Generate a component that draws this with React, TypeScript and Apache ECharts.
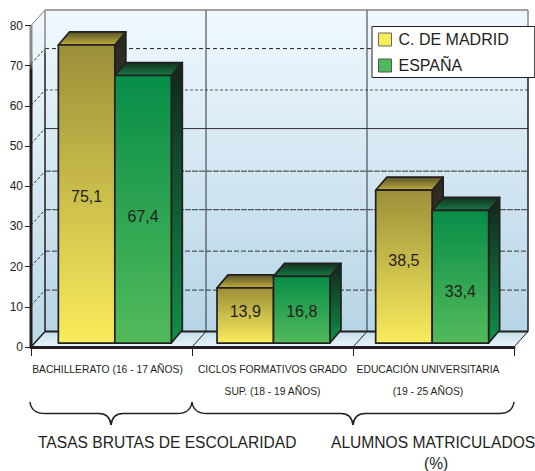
import React, { useEffect, useRef } from "react";
import * as echarts from "echarts";

const categories = [
  "BACHILLERATO (16 - 17 AÑOS)",
  "CICLOS FORMATIVOS GRADO\nSUP. (18 - 19 AÑOS)",
  "EDUCACIÓN UNIVERSITARIA\n(19 - 25 AÑOS)",
];
const madrid = [75.1, 13.9, 38.5];
const espana = [67.4, 16.8, 33.4];
const madridLabelAt = [37, 8, 20.7];
const espanaLabelAt = [31.8, 7.9, 12.9];
const wallLineValues = [70.4, 60.1, 50.5, 39.9, 30.3, 20, 10.3];
const wallLineDashes = [[4, 3], [3, 2], null, [6, 1], [6, 1], [5, 2], [5, 2]];
const wallLineColors = ["#222", "#555", "#333", "#333", "#333", "#333", "#333"];

const FONT = "'Liberation Sans', Arial, sans-serif";
const DARK = "#231f20";

const vGrad = (stops: string[]) => ({
  type: "linear", x: 0, y: 0, x2: 0, y2: 1,
  colorStops: stops.map((color, i) => ({ offset: i / (stops.length - 1), color })),
});

const edgeGrad = {
  type: "linear", x: 0, y: 0, x2: 0, y2: 1,
  colorStops: [
    { offset: 0, color: "#8a8a8a" },
    { offset: 0.11, color: "#8a8a8a" },
    { offset: 0.14, color: DARK },
    { offset: 1, color: DARK },
  ],
};

const WALL_X = 14;
const WALL_Y = 15.5;
const BAR_X = 11;
const BAR_Y = 13;

const line = (x1: number, y1: number, x2: number, y2: number, stroke: string, lineWidth = 1, lineDash?: number[] | null) => ({
  type: "line",
  shape: { x1, y1, x2, y2 },
  style: { stroke, lineWidth, lineDash: lineDash || undefined, fill: "none" },
});

const curve = (x1: number, y1: number, cpx1: number, cpy1: number, cpx2: number, cpy2: number, x2: number, y2: number) => ({
  type: "bezierCurve",
  shape: { x1, y1, cpx1, cpy1, cpx2, cpy2, x2, y2 },
  style: { stroke: DARK, lineWidth: 1.5, fill: "none" },
});

const brace = (a: number, b: number, top: number) => {
  const m = (a + b) / 2;
  const bar = top + 11.5;
  const tip = top + 23;
  return [
    curve(a, top, a + 1, top + 8, a + 6, bar, a + 15, bar),
    line(a + 15, bar, m - 12, bar, DARK, 1.5),
    curve(m - 12, bar, m - 5, bar, m - 1, bar + 3, m, tip),
    curve(m, tip, m + 1, bar + 3, m + 5, bar, m + 12, bar),
    line(m + 12, bar, b - 15, bar, DARK, 1.5),
    curve(b - 15, bar, b - 6, bar, b - 1, top + 8, b, top),
  ];
};

const renderFrame = (params: any, api: any) => {
  const { x, y, width, height } = params.coordSys;
  const bottom = y + height;
  const right = x + width;
  const band = width / categories.length;
  const kids: any[] = [];
  // left wall
  kids.push({
    type: "polygon",
    shape: { points: [[x, bottom], [x + WALL_X, bottom - WALL_Y], [x + WALL_X, y - WALL_Y], [x, y]] },
    style: { fill: vGrad(["#f1f8fd", "#bcd8e8"]) },
  });
  // back wall
  kids.push({
    type: "rect",
    shape: { x: x + WALL_X, y: y - WALL_Y, width, height },
    style: { fill: vGrad(["#f0f8fe", "#b6d5e6"]) },
  });
  // floor
  kids.push({
    type: "polygon",
    shape: { points: [[x, bottom], [x + WALL_X, bottom - WALL_Y], [right + WALL_X, bottom - WALL_Y], [right, bottom]] },
    style: { fill: vGrad(["#c4deeb", "#eaf5fb"]) },
  });
  // wall lines and their diagonals on the left wall
  wallLineValues.forEach((v, i) => {
    const py = api.coord([0, v])[1];
    kids.push(line(x + WALL_X, py - WALL_Y, right + WALL_X, py - WALL_Y, wallLineColors[i], 1, wallLineDashes[i]));
    kids.push(line(x, py, x + WALL_X, py - WALL_Y, "#333", 1, [3, 2]));
  });
  // verticals and floor separators
  for (let i = 1; i <= categories.length; i++) {
    const bx = x + band * i;
    if (i < categories.length) kids.push(line(bx + WALL_X, y - WALL_Y, bx + WALL_X, bottom - WALL_Y, "#333", 1));
    kids.push(line(bx, bottom, bx + WALL_X, bottom - WALL_Y, DARK, 1));
  }
  // outline
  kids.push(line(x + WALL_X, y - WALL_Y, right + WALL_X, y - WALL_Y, "#858585", 1.5));
  kids.push(line(x, y, x + WALL_X, y - WALL_Y, "#777", 1));
  kids.push({ type: "rect", shape: { x: x + WALL_X - 0.75, y: y - WALL_Y, width: 1.5, height }, style: { fill: edgeGrad } });
  kids.push({ type: "rect", shape: { x: right + WALL_X - 0.75, y: y - WALL_Y, width: 1.5, height }, style: { fill: edgeGrad } });
  kids.push({ type: "rect", shape: { x: x - 1.5, y, width: 3, height: height + 1 }, style: { fill: edgeGrad } });
  kids.push(line(x + WALL_X, bottom - WALL_Y, right + WALL_X, bottom - WALL_Y, DARK, 2));
  kids.push(line(x, bottom, x + WALL_X, bottom - WALL_Y, DARK, 1.5));
  // braces below the axis
  const top = bottom + 55;
  brace(x - 1, x + band, top).forEach((b) => kids.push(b));
  brace(x + band, right, top).forEach((b) => kids.push(b));
  return { type: "group", children: kids };
};

const makeBar = (side: -1 | 1, front: string[], face: string[], flank: string[], labelAt: number[]) =>
  (params: any, api: any) => {
    const cat = api.value(0);
    const val = api.value(1);
    const [xc, yTop] = api.coord([cat, val]);
    const yBase = api.coord([cat, 0])[1];
    const w = api.size([1, 0])[0] * 0.356;
    const x0 = side < 0 ? xc - w : xc;
    const x1 = x0 + w;
    const labelY = api.coord([cat, labelAt[params.dataIndex]])[1];
    const stroke = { stroke: DARK, lineWidth: 1.7, lineJoin: "round" };
    return {
      type: "group",
      children: [
        {
          type: "polygon",
          shape: { points: [[x1, yTop], [x1 + BAR_X, yTop - BAR_Y], [x1 + BAR_X, yBase - BAR_Y], [x1, yBase]] },
          style: { fill: vGrad(flank), ...stroke },
        },
        {
          type: "polygon",
          shape: { points: [[x0, yTop], [x0 + BAR_X, yTop - BAR_Y], [x1 + BAR_X, yTop - BAR_Y], [x1, yTop]] },
          style: { fill: vGrad(face), ...stroke },
        },
        {
          type: "rect",
          shape: { x: x0, y: yTop, width: w, height: yBase - yTop },
          style: { fill: vGrad(front), ...stroke },
        },
        {
          type: "text",
          x: (x0 + x1) / 2,
          y: labelY,
          style: {
            text: String(val).replace(".", ","),
            fill: DARK,
            font: `16px ${FONT}`,
            align: "center",
            verticalAlign: "middle",
          },
        },
      ],
    };
  };

export default function App() {
  const ref = useRef<HTMLDivElement>(null);
  useEffect(() => {
    if (!ref.current) return;
    const chart = echarts.init(ref.current, undefined, { renderer: "svg" });
    chart.setOption({
      animation: false,
      backgroundColor: "#fff",
      grid: [
        { left: 31, top: 25.5, width: 483, height: 321.5 },
        { left: 35.5, top: 25.5, width: 476, height: 321.5 },
      ],
      xAxis: [
        {
          type: "category",
          gridIndex: 0,
          data: [
            { value: categories[0], textStyle: { padding: [0, 8, 0, 0] } },
            { value: categories[1] },
            { value: categories[2], textStyle: { padding: [0, 11, 0, 0] } },
          ],
          z: 10,
          axisLine: { lineStyle: { color: DARK, width: 3 } },
          axisTick: { show: true, length: 9, lineStyle: { color: DARK, width: 1 } },
          axisLabel: {
            interval: 0,
            margin: 11,
            fontFamily: FONT,
            fontSize: 10.3,
            lineHeight: 22,
            color: DARK,
          },
          splitLine: { show: false },
        },
        { type: "category", gridIndex: 1, data: categories, show: false },
      ],
      yAxis: [
        {
          type: "value",
          gridIndex: 0,
          min: 0,
          max: 80,
          interval: 10,
          z: 10,
          axisLine: { show: false },
          axisTick: { show: true, length: 6, lineStyle: { color: DARK, width: 1 } },
          axisLabel: { margin: 8, fontFamily: FONT, fontSize: 12, color: DARK },
          splitLine: { show: false },
        },
        { type: "value", gridIndex: 1, min: -1, max: 80, show: false, splitLine: { show: false } },
      ],
      legend: {
        left: 372,
        top: 26.5,
        orient: "vertical",
        z: 20,
        backgroundColor: "#fff",
        borderColor: DARK,
        borderWidth: 1,
        padding: [5, 26, 4, 6],
        itemWidth: 13,
        itemHeight: 13,
        itemGap: 10,
        textStyle: { fontFamily: FONT, fontSize: 16, color: DARK, padding: [0, 0, 0, 2] },
        data: [
          { name: "C. DE MADRID", icon: "rect", itemStyle: { color: "#f8ec5c", borderColor: "#666", borderWidth: 1 } },
          { name: "ESPAÑA", icon: "rect", itemStyle: { color: "#50b95a", borderColor: "#555", borderWidth: 1 } },
        ],
      },
      graphic: [
        { type: "text", left: 38, top: 434, z: 20, style: { text: "TASAS BRUTAS DE ESCOLARIDAD", fill: DARK, font: `15.6px ${FONT}` } },
        { type: "text", left: 331, top: 434, z: 20, style: { text: "ALUMNOS MATRICULADOS", fill: DARK, font: `15.6px ${FONT}` } },
        { type: "text", left: 424, top: 455, z: 20, style: { text: "(%)", fill: DARK, font: `15.6px ${FONT}` } },
      ],
      series: [
        {
          type: "custom",
          name: "marco",
          xAxisIndex: 0,
          yAxisIndex: 0,
          z: 1,
          silent: true,
          clip: false,
          data: [[0, 0]],
          renderItem: renderFrame,
        },
        {
          type: "custom",
          name: "C. DE MADRID",
          xAxisIndex: 1,
          yAxisIndex: 1,
          z: 2,
          clip: false,
          itemStyle: { color: "#f8ec5c" },
          data: madrid.map((v, i) => [i, v]),
          renderItem: makeBar(-1, ["#9c8f3a", "#f9ec5c"], ["#5a5228", "#c0ae40"], ["#2a2a22", "#4a4a2a"], madridLabelAt),
        },
        {
          type: "custom",
          name: "ESPAÑA",
          xAxisIndex: 1,
          yAxisIndex: 1,
          z: 3,
          clip: false,
          itemStyle: { color: "#50b95a" },
          data: espana.map((v, i) => [i, v]),
          renderItem: makeBar(1, ["#078d48", "#53ba5b"], ["#14301f", "#157a45"], ["#12261c", "#0f9048"], espanaLabelAt),
        },
      ],
    });
    return () => chart.dispose();
  }, []);
  return <div ref={ref} style={{ position: "fixed", left: 0, top: 0, width: 535, height: 471 }} />;
}
